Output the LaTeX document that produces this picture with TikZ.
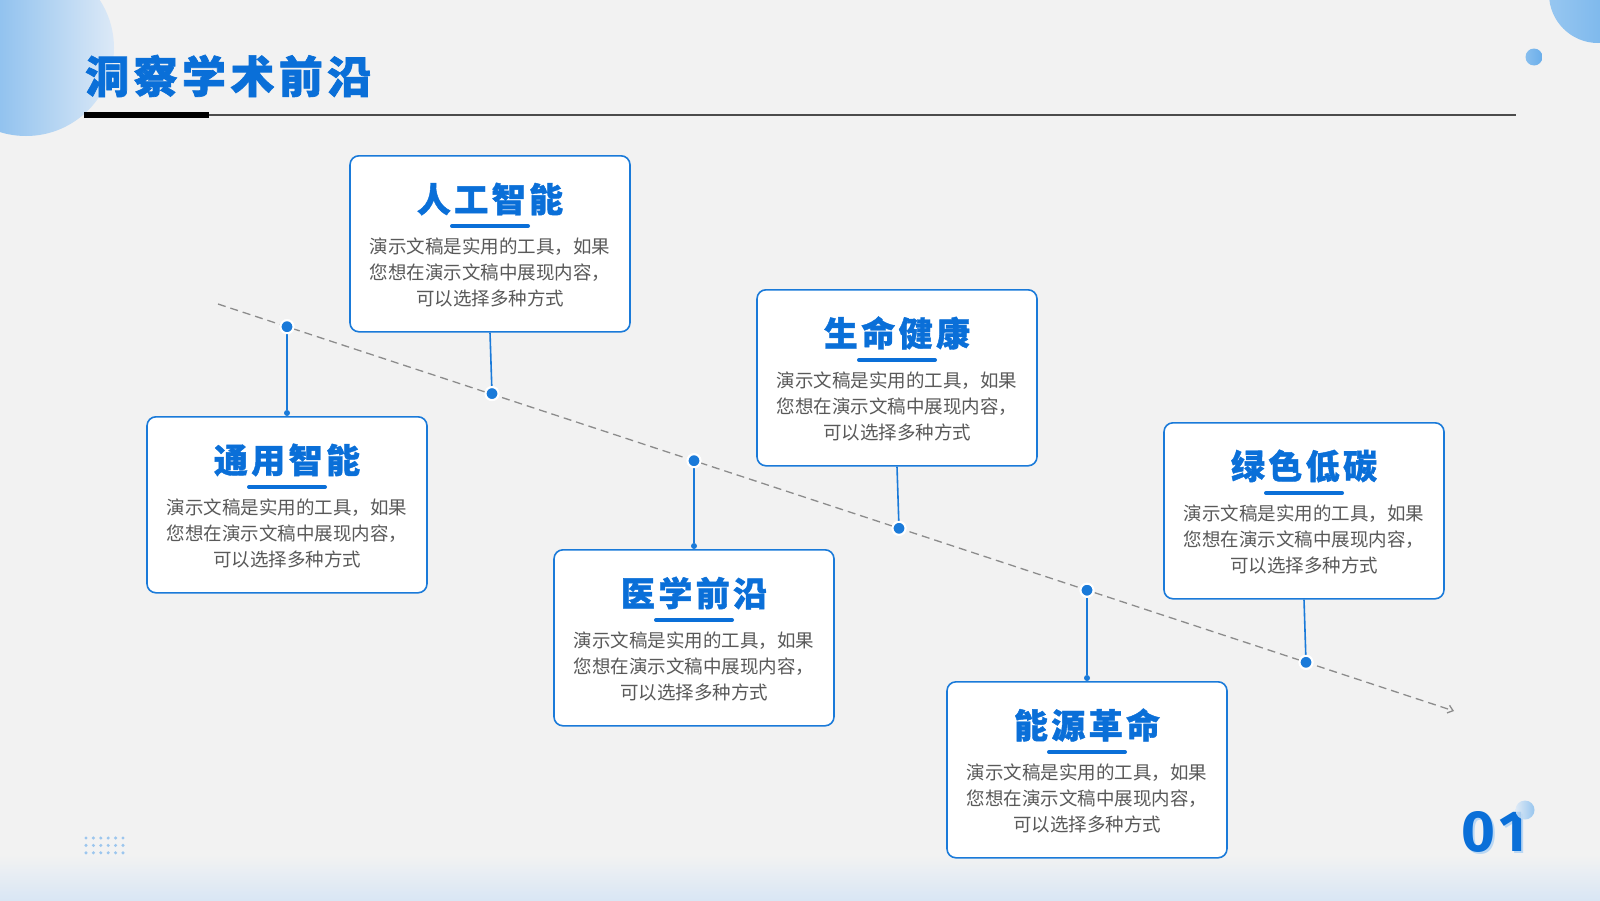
\documentclass[tikz,border=0pt]{standalone}
\usepackage{fontspec}
\usetikzlibrary{arrows.meta,calc}
\newfontfamily\cjk{Noto Sans CJK SC}
\newfontfamily\numfont{Fira Sans}
\definecolor{bg}{HTML}{F2F2F2}
\definecolor{band}{HTML}{D9E6F4}
\definecolor{mainblue}{HTML}{0A6FD8}
\definecolor{edgeblue}{HTML}{1A7AD9}
\definecolor{bodygray}{HTML}{595959}
\definecolor{dashgray}{HTML}{8C8C8C}
\definecolor{lightblue}{HTML}{6AAEEA}
\definecolor{paleblue}{HTML}{DCE9F7}
\definecolor{dotblue}{HTML}{9CC6EE}
\tikzset{
  card/.style={draw=edgeblue, line width=1.6pt, fill=white, rounded corners=9pt,
    minimum width=280pt, minimum height=176pt, inner sep=0pt},
  cardtitle/.style={text=mainblue, inner sep=0pt,
    font=\cjk\bfseries\addfontfeature{LetterSpace=10,FakeBold=1.2}\fontsize{34}{40}\selectfont},
  cardbody/.style={text=bodygray, align=center, inner sep=0pt,
    font=\cjk\fontsize{18.5}{26}\selectfont},
  uline/.style={draw=mainblue, line width=4pt, line cap=round},
  linkline/.style={draw=edgeblue, line width=1.6pt},
  bigdot/.style={circle, fill=edgeblue, draw=white, line width=2pt, minimum size=13pt, inner sep=0pt},
  smalldot/.style={circle, fill=edgeblue, minimum size=6pt, inner sep=0pt},
  timeline/.style={draw=dashgray, line width=1.3pt, dash pattern=on 8pt off 5pt,
    -{Straight Barb[length=5pt,width=8pt]}},
}
\newcommand{\mycard}[4]{%
  \node[card, anchor=north] (#1) at (#2,#3) {};
  \node[cardtitle] (#1t) at ($(#1.north)+(0,44)$) {#4};
  \coordinate (#1ua) at ($(#1.north)+(-38,71)$);
  \coordinate (#1ub) at ($(#1.north)+(38,71)$);
  \draw[uline] (#1ua) -- (#1ub);
  \node[cardbody] (#1x) at ($(#1.north)+(0,117)$) {演示文稿是实用的工具，如果\\您想在演示文稿中展现内容，\\可以选择多种方式};
}
\begin{document}
\begin{tikzpicture}[x=1pt,y=-1pt]
\useasboundingbox (0,0) rectangle (1600,900);
\fill[bg] (0,0) rectangle (1600,900);
\shade[top color=bg, bottom color=band] (0,855) rectangle (1600,900);
% decorative circles
\begin{scope}
\clip (0,0) rectangle (1600,900);
\shade[left color=lightblue, right color=paleblue] (26,48) circle (88);
\shade[left color=lightblue!70, right color=lightblue] (1598,-6) circle (49);
\end{scope}
\shade[left color=lightblue!80, right color=lightblue] (1534,57) circle (8.5);
% title
\node[anchor=west, text=mainblue, inner sep=0pt,
  font=\cjk\bfseries\addfontfeature{LetterSpace=10,FakeBold=1.5}\fontsize{44}{50}\selectfont] (title) at (85,76) {洞察学术前沿};
\coordinate (hl1) at (84,115);
\coordinate (hl2) at (1516,115);
\coordinate (hk) at (209,115);
\draw[black!70, line width=1.5pt] (hl1) -- (hl2);
\draw[black, line width=6pt] (hl1) -- (hk);
% timeline
\coordinate (ls) at (218,304);
\coordinate (le) at (1454,711);
\draw[timeline] (ls) -- (le);
% cards
\mycard{c1}{490}{155}{人工智能}
\mycard{c2}{287}{416}{通用智能}
\mycard{c3}{694}{549}{医学前沿}
\mycard{c4}{897}{289}{生命健康}
\mycard{c5}{1087}{681}{能源革命}
\mycard{c6}{1304}{422}{绿色低碳}
% dots on line
\node[bigdot] (d2) at (287,326.7) {};
\node[bigdot] (d1) at (492,393.6) {};
\node[bigdot] (d3) at (694,460.7) {};
\node[bigdot] (d4) at (899,528.3) {};
\node[bigdot] (d5) at (1087,590.2) {};
\node[bigdot] (d6) at (1306,662.3) {};
% links
\draw[linkline] (c1.south) -- (d1);
\draw[linkline] (c4.south) -- (d4);
\draw[linkline] (c6.south) -- (d6);
\node[smalldot] (s2) at ($(c2.north)+(0,-3)$) {};
\node[smalldot] (s3) at ($(c3.north)+(0,-3)$) {};
\node[smalldot] (s5) at ($(c5.north)+(0,-3)$) {};
\draw[linkline] (d2) -- (s2);
\draw[linkline] (d3) -- (s3);
\draw[linkline] (d5) -- (s5);
\node[bigdot] at (d1) {};
\node[bigdot] at (d2) {};
\node[bigdot] at (d3) {};
\node[bigdot] at (d4) {};
\node[bigdot] at (d5) {};
\node[bigdot] at (d6) {};
% dot grid
\foreach \i in {0,...,5} \foreach \j in {0,...,2}
  \fill[dotblue] (86+\i*7.4, 838+\j*7.4) circle (1.7);
% page number
\node[text=dotblue!70, inner sep=0pt, font=\numfont\bfseries\addfontfeature{LetterSpace=8}\fontsize{58}{60}\selectfont] at (1496,834) {01};
\node[text=mainblue, inner sep=0pt, font=\numfont\bfseries\addfontfeature{LetterSpace=8}\fontsize{58}{60}\selectfont] (pn) at (1494,832) {01};
\shade[left color=paleblue, right color=lightblue!80, opacity=0.85] (1525,810) circle (9.5);
\end{tikzpicture}
\end{document}
